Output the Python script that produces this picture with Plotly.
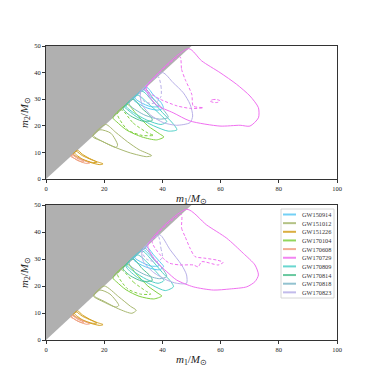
import plotly.graph_objects as go

# event names and colours
events = ['GW150914', 'GW151012', 'GW151226', 'GW170104', 'GW170608',
          'GW170729', 'GW170809', 'GW170814', 'GW170818', 'GW170823']
colors = ['#5bc8f5', '#a8b870', '#d4a020', '#80d040', '#f0a080',
          '#f070f0', '#50d0c8', '#50c090', '#80b8c8', '#b8b0e8']

# 90% credible contours, (m1, m2) points -- top panel
gw150914_top_a = [(34.5, 34.5), (37, 31.5), (39.5, 28.8), (40.3, 26.8), (38.5, 25.9), (35, 26.6), (31.5, 28.5), (30, 30)]
gw150914_top_b = [(33.5, 33.5), (36, 31), (38.3, 28.5), (38.8, 27.3), (36, 27.2), (32.5, 28.8), (30.5, 30.5)]
gw151012_top_a = [(20.5, 20.5), (24, 17.5), (28, 14), (32, 11), (36.3, 8.8), (34.5, 8.4), (29, 9.8), (24, 11.8), (19, 14.3), (16, 16)]
gw151012_top_b = [(18.5, 18.5), (22.3, 17.2), (24.6, 12.8), (24.1, 11.9), (20, 13.8), (16.3, 16.3)]
gw151226_top_a = [(10.8, 10.8), (12.5, 9.3), (15, 7.7), (17.5, 6.5), (19.6, 5.7), (18.5, 5.4), (15, 6.3), (12, 7.6), (9.3, 9.3)]
gw151226_top_b = [(10.4, 10.4), (12.5, 8.8), (15.5, 7.3), (17.5, 6.3), (16, 6.2), (12.5, 7.5), (9.8, 9.8)]
gw170104_top_a = [(28, 28), (31, 24.5), (35, 20), (39, 17), (40.5, 15.8), (38, 14.7), (33, 15.8), (27.7, 18.4), (24.3, 21.5), (23, 23)]
gw170104_top_b = [(26, 26), (30, 21), (35, 17.3), (37, 16.4), (33, 16.4), (28, 18.5), (24.5, 24.5)]
gw170608_top_a = [(9.3, 9.3), (11, 8), (13.5, 6.7), (15, 6), (14, 5.8), (11.5, 6.7), (9.5, 7.9), (8.5, 8.5)]
gw170608_top_b = [(9, 9), (11, 7.6), (13, 6.6), (12.5, 6.4), (10.5, 7.2), (8.7, 8.7)]
gw170729_top_a = [(49, 49), (53.5, 44.4), (59.8, 40), (65.5, 35.6), (70.1, 31.2), (73, 26.8), (73, 23), (70.1, 19.9),
                  (66.7, 20.2), (59.8, 19.9), (49.5, 21.8), (43.7, 24.9), (38, 27.8), (35, 32), (34.5, 34.5)]
gw170729_top_b = [(46, 46), (46.6, 41.2), (47.8, 37.5), (50.1, 31.8), (50.6, 27.4), (54, 26.8), (50, 26.5), (45, 27.5),
                  (39.2, 30), (35.7, 32.2), (33.8, 33.8)]
gw170729_top_c = [(56.4, 29.3), (57.2, 29.8), (58.5, 29.9), (59.8, 29.4), (59, 28.8), (57.5, 28.8)]
gw170809_top_a = [(33, 33), (36, 30), (40, 25), (43.5, 21), (45, 18.5), (42, 18), (37, 20), (31, 23.5), (27.5, 26.5), (27, 27)]
gw170809_top_b = [(31.5, 31.5), (35, 28.5), (39, 24.5), (41.5, 21.5), (39.5, 20.5), (35, 22), (30, 25), (27.5, 27.5)]
gw170814_top_a = [(30, 30), (33, 26.5), (36, 23.5), (36.5, 22), (33, 21.8), (29, 23.8), (26.5, 26.5)]
gw170818_top_a = [(34, 34), (37, 30), (40, 26.5), (42, 23.2), (39, 22.5), (34, 24), (29.5, 27), (28.5, 28.5)]
gw170823_top_a = [(40, 40), (43.7, 36.2), (47.2, 32.4), (49.5, 28.1), (50.4, 23.7), (49.5, 21.2), (44.9, 20.2),
                  (40.3, 21.2), (36, 24), (33, 28), (32.5, 32.5)]
gw170823_top_b = [(38.5, 38.5), (39.5, 35), (39.5, 31), (37.5, 28.5), (34, 29), (32, 32)]

# bottom panel
gw150914_bot_a = [(34.5, 34.5), (37, 31.5), (39.5, 28.5), (40.4, 27.2), (39, 26), (35, 26.8), (31.5, 28.5), (30, 30)]
gw150914_bot_b = [(33.5, 33.5), (36, 31), (38.3, 28.5), (38.8, 27.5), (36, 27.4), (32.5, 29), (30.5, 30.5)]
gw151012_bot_a = [(20, 20), (25, 16), (29, 12.5), (31, 11), (29.5, 9.9), (25, 11.5), (20, 14.3), (16.5, 16.5)]
gw151012_bot_b = [(18.5, 18.5), (22, 17), (25, 12.8), (24, 12.2), (20, 14), (16.3, 16.3)]
gw151226_bot_a = [(10.8, 10.8), (12.5, 9.3), (15, 7.7), (17.5, 6.5), (19.6, 5.7), (18.5, 5.4), (15, 6.3), (12, 7.6), (9.3, 9.3)]
gw151226_bot_b = [(10.4, 10.4), (12.5, 8.8), (15.5, 7.3), (17.5, 6.3), (16, 6.2), (12.5, 7.5), (9.8, 9.8)]
gw170104_bot_a = [(28, 28), (31, 24.5), (35, 20), (38.5, 17.3), (39.8, 16.3), (37, 15.2), (32, 16.2), (27.5, 18.6),
                  (24.3, 21.5), (23, 23)]
gw170104_bot_b = [(26, 26), (30, 21.5), (34.5, 18), (36, 17), (32.5, 17), (28, 19), (24.5, 24.5)]
gw170608_bot_a = [(9.3, 9.3), (11, 8), (13.5, 6.7), (15, 6), (14, 5.8), (11.5, 6.7), (9.5, 7.9), (8.5, 8.5)]
gw170608_bot_b = [(9, 9), (11, 7.6), (13, 6.6), (12.5, 6.4), (10.5, 7.2), (8.7, 8.7)]
gw170729_bot_a = [(48.4, 48.4), (55.2, 42.6), (62.1, 37.7), (67.8, 32.1), (71.8, 27.8), (73, 24.1), (71.8, 21.6),
                  (69, 19.7), (63.2, 18.9), (57.5, 18.5), (50.6, 19.7), (44.9, 22.2), (41.5, 25.3), (38, 29), (35, 35)]
gw170729_bot_b = [(46.5, 46.5), (46.6, 41.4), (47.8, 38.3), (49.5, 34), (51.2, 30.9), (54.6, 30.3), (58.7, 29.6),
                  (60.9, 28.8), (59.2, 27.8), (53.5, 29), (52.3, 27.1), (50.6, 27.8), (46, 27.8), (42.6, 28.4),
                  (40.9, 29.6), (36.5, 36.5)]
gw170809_bot_a = [(33, 33), (36, 30), (40, 25), (43, 21.5), (43.8, 19.7), (41, 18.3), (36.5, 20.3), (31, 23.5), (27.5, 27.5)]
gw170809_bot_b = [(31.5, 31.5), (35, 28.5), (38.5, 24.5), (40.5, 22), (38.5, 21), (34.5, 22.5), (30, 25.5), (27.8, 27.8)]
gw170814_bot_a = [(30, 30), (33, 26.5), (36, 23.5), (36.5, 22), (33, 21.8), (29, 23.8), (26.5, 26.5)]
gw170818_bot_a = [(34, 34), (37, 30), (40, 26.5), (41.5, 23.5), (39, 22.7), (34, 24.2), (29.5, 27), (28.5, 28.5)]
gw170823_bot_a = [(39, 39), (42.6, 33.5), (46.6, 27.8), (48.3, 24.1), (48.3, 21), (44.9, 21), (41.5, 22.2), (37, 25),
                  (33.5, 29), (33, 33)]
gw170823_bot_b = [(38.5, 38.5), (39.5, 34), (40, 30.5), (38, 29), (34.5, 30), (33, 33)]

excluded_m1 = [0, 0, 50, 0]
excluded_m2 = [0, 50, 50, 0]

top_contours = [
    ('GW150914', gw150914_top_a, 'solid'), ('GW150914', gw150914_top_b, 'solid'),
    ('GW151012', gw151012_top_a, 'solid'), ('GW151012', gw151012_top_b, 'solid'),
    ('GW151226', gw151226_top_a, 'solid'), ('GW151226', gw151226_top_b, 'solid'),
    ('GW170104', gw170104_top_a, 'solid'), ('GW170104', gw170104_top_b, 'dash'),
    ('GW170608', gw170608_top_a, 'solid'), ('GW170608', gw170608_top_b, 'solid'),
    ('GW170809', gw170809_top_a, 'solid'), ('GW170809', gw170809_top_b, 'solid'),
    ('GW170814', gw170814_top_a, 'solid'), ('GW170818', gw170818_top_a, 'solid'),
    ('GW170823', gw170823_top_a, 'solid'), ('GW170823', gw170823_top_b, 'dash'),
    ('GW170729', gw170729_top_a, 'solid'), ('GW170729', gw170729_top_b, 'dash'),
    ('GW170729', gw170729_top_c, 'dash'),
]
bot_contours = [
    ('GW150914', gw150914_bot_a, 'solid'), ('GW150914', gw150914_bot_b, 'solid'),
    ('GW151012', gw151012_bot_a, 'solid'), ('GW151012', gw151012_bot_b, 'solid'),
    ('GW151226', gw151226_bot_a, 'solid'), ('GW151226', gw151226_bot_b, 'solid'),
    ('GW170104', gw170104_bot_a, 'solid'), ('GW170104', gw170104_bot_b, 'dash'),
    ('GW170608', gw170608_bot_a, 'solid'), ('GW170608', gw170608_bot_b, 'solid'),
    ('GW170809', gw170809_bot_a, 'solid'), ('GW170809', gw170809_bot_b, 'solid'),
    ('GW170814', gw170814_bot_a, 'solid'), ('GW170818', gw170818_bot_a, 'solid'),
    ('GW170823', gw170823_bot_a, 'solid'), ('GW170823', gw170823_bot_b, 'dash'),
    ('GW170729', gw170729_bot_a, 'solid'), ('GW170729', gw170729_bot_b, 'dash'),
]

col = dict(zip(events, colors))
fig = go.Figure()

for xa, ya, contours in [('x', 'y', top_contours), ('x2', 'y2', bot_contours)]:
    fig.add_trace(go.Scatter(x=excluded_m1, y=excluded_m2, xaxis=xa, yaxis=ya, mode='lines',
                             fill='toself', fillcolor='#b0b0b0', line=dict(width=0),
                             showlegend=False, hoverinfo='skip'))
    for name, pts, dash in contours:
        xs = [p[0] for p in pts] + [pts[0][0]]
        ys = [p[1] for p in pts] + [pts[0][1]]
        fig.add_trace(go.Scatter(x=xs, y=ys, xaxis=xa, yaxis=ya, mode='lines',
                                 line=dict(color=col[name], width=1,
                                           dash='3px,2px' if dash == 'dash' else 'solid',
                                           shape='spline', smoothing=0.7),
                                 showlegend=False, hoverinfo='skip'))

font = 'Liberation Serif'
W, H = 374, 382
OFF = 8  # the page body adds an 8px margin


def px(x):
    return (x - OFF) / W


def py(y):
    return 1 - (y - OFF) / H


# hand-drawn legend box (plotly legend rows can't be packed this tightly)
shapes = [dict(type='rect', xref='paper', yref='paper', x0=px(281), x1=px(334),
               y0=py(298), y1=py(209), line=dict(color='#cccccc', width=0.8),
               fillcolor='white', layer='above')]
annotations = []
for i, name in enumerate(events):
    yy = py(214.5 + i * 8.65)
    shapes.append(dict(type='line', xref='paper', yref='paper', x0=px(283), x1=px(296),
                       y0=yy, y1=yy, line=dict(color=col[name], width=2), opacity=0.85,
                       layer='above'))
    annotations.append(dict(xref='paper', yref='paper', x=px(300), y=yy, text=name,
                            showarrow=False, xanchor='left', yanchor='middle',
                            font=dict(family=font, size=6.3, color='#333')))

xtitle = '<i>m</i><sub>1</sub>/<i>M</i><sub>⊙</sub>'
ytitle = '<i>m</i><sub>2</sub>/<i>M</i><sub>⊙</sub>'
ax = dict(showline=True, mirror=True, linecolor='#333', linewidth=1, ticks='outside',
          ticklen=3, tickwidth=0.8, tickcolor='#333', showgrid=False, zeroline=False,
          automargin=False, tickfont=dict(family=font, size=6.5, color='#222'))

fig.update_layout(
    width=W, height=H, margin=dict(l=0, r=0, t=0, b=0),
    paper_bgcolor='white', plot_bgcolor='white',
    font=dict(family=font, color='#222'), showlegend=False,
    xaxis=dict(ax, domain=[px(46), px(337)], range=[0, 100], tickvals=[0, 20, 40, 60, 80, 100], anchor='y',
               title=dict(text=xtitle, font=dict(size=11), standoff=3)),
    yaxis=dict(ax, domain=[py(179), py(46)], range=[0, 50], tickvals=[0, 10, 20, 30, 40, 50], anchor='x',
               title=dict(text=ytitle, font=dict(size=11), standoff=3)),
    xaxis2=dict(ax, domain=[px(46), px(337)], range=[0, 100], tickvals=[0, 20, 40, 60, 80, 100], anchor='y2',
                title=dict(text=xtitle, font=dict(size=11), standoff=3)),
    yaxis2=dict(ax, domain=[py(340), py(205)], range=[0, 50], tickvals=[0, 10, 20, 30, 40, 50], anchor='x2',
                title=dict(text=ytitle, font=dict(size=11), standoff=3)),
    shapes=shapes, annotations=annotations,
)

fig.write_html('out.html')
